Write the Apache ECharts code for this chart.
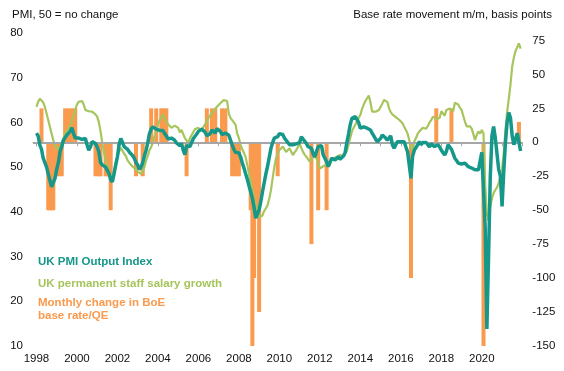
<!DOCTYPE html>
<html><head><meta charset="utf-8">
<script src="https://cdn.jsdelivr.net/npm/echarts@6/dist/echarts.min.js"></script>
<style>html,body{margin:0;padding:0;background:#fff}#c{width:564px;height:371px}</style>
</head><body><div id="c"></div>
<script>
// Monthly data, January 1998 to December 2021 (12 values per row = one year)
const startYear = 1998;
const pmiOutput = [
  57.6, 57.0, 55.0, 54.0, 52.0, 51.0, 50.0, 48.5, 47.0, 45.6, 46.0, 47.5, // 1998
  49.5, 51.0, 53.5, 54.6, 56.0, 56.6, 57.2, 57.5, 58.0, 58.8, 57.5, 56.5, // 1999
  56.8, 56.5, 56.8, 56.2, 56.0, 56.4, 55.0, 53.8, 54.5, 55.7, 56.0, 55.3, // 2000
  54.5, 53.4, 51.0, 50.5, 50.3, 50.0, 49.7, 48.6, 47.2, 46.7, 48.5, 50.5, // 2001
  52.3, 55.0, 56.4, 55.5, 54.6, 54.3, 54.0, 53.4, 53.1, 52.6, 52.0, 51.0, // 2002
  50.5, 49.5, 50.0, 51.0, 52.5, 53.8, 55.5, 57.5, 58.5, 59.0, 59.1, 58.5, // 2003
  58.5, 58.2, 58.0, 58.2, 57.5, 57.0, 56.3, 56.3, 56.5, 56.6, 56.0, 55.4, // 2004
  55.5, 54.8, 55.3, 53.8, 52.8, 54.8, 54.5, 54.6, 55.5, 56.4, 56.8, 57.4, // 2005
  58.0, 58.3, 58.5, 58.5, 57.8, 57.0, 56.6, 57.5, 58.3, 58.0, 57.6, 58.6, // 2006
  58.7, 58.0, 57.3, 57.5, 57.6, 57.3, 57.2, 57.6, 55.0, 54.0, 53.3, 53.0, // 2007
  53.2, 52.3, 51.0, 49.8, 48.5, 47.3, 45.8, 44.5, 43.0, 41.0, 38.6, 38.8, // 2008
  40.5, 42.3, 44.5, 46.5, 48.5, 50.2, 52.2, 54.2, 55.5, 56.5, 56.8, 56.8, // 2009
  57.5, 57.8, 57.3, 56.5, 56.0, 55.5, 55.0, 54.6, 55.0, 55.3, 55.2, 55.0, // 2010
  55.5, 56.8, 56.3, 55.8, 55.3, 54.6, 54.5, 54.2, 53.0, 52.3, 53.5, 54.6, // 2011
  54.8, 54.8, 52.7, 52.3, 51.2, 50.1, 51.0, 52.0, 51.8, 51.6, 52.0, 52.3, // 2012
  51.8, 51.6, 52.5, 53.3, 55.5, 57.4, 59.5, 60.9, 61.1, 61.3, 61.0, 60.0, // 2013
  58.7, 58.8, 59.0, 58.8, 58.7, 58.4, 58.3, 57.6, 57.2, 56.3, 55.7, 56.0, // 2014
  56.4, 57.2, 57.6, 56.5, 56.0, 56.2, 57.0, 55.0, 54.2, 55.0, 55.7, 55.7, // 2015
  55.7, 55.5, 55.7, 54.5, 53.4, 53.1, 47.5, 52.5, 53.8, 54.2, 55.0, 55.7, // 2016
  55.0, 55.5, 55.7, 55.5, 55.0, 54.5, 55.2, 54.8, 54.6, 55.0, 55.0, 54.5, // 2017
  53.8, 53.5, 52.7, 53.5, 55.0, 54.5, 54.0, 53.0, 52.0, 51.5, 50.9, 50.8, // 2018
  50.7, 50.8, 50.9, 50.5, 50.1, 50.0, 49.8, 49.6, 49.4, 49.4, 49.4, 49.8, // 2019
  53.3, 53.0, 36.5, 13.8, 30.0, 47.7, 57.0, 59.1, 56.5, 53.0, 49.5, 48.0, // 2020
  41.2, 49.0, 55.5, 60.0, 62.2, 61.0, 57.0, 55.0, 55.2, 57.6, 57.6, 53.6  // 2021
];
const salaryGrowth = [
  63.5, 64.6, 65.3, 65.4, 64.5, 63.5, 62.0, 60.5, 59.0, 57.5, 56.0, 55.0, // 1998
  54.0, 53.8, 54.5, 55.5, 56.5, 57.3, 58.0, 58.5, 59.5, 60.5, 61.5, 62.8, // 1999
  64.0, 64.6, 65.0, 64.8, 64.0, 62.8, 62.8, 62.5, 62.8, 62.4, 62.2, 61.8, // 2000
  61.3, 60.0, 58.0, 55.5, 53.5, 51.5, 50.5, 48.8, 47.5, 47.3, 49.0, 51.0, // 2001
  52.5, 53.5, 54.3, 54.0, 53.0, 52.5, 51.5, 51.0, 50.5, 50.3, 49.8, 49.4, // 2002
  49.0, 48.8, 48.5, 49.2, 50.0, 51.5, 52.5, 53.8, 54.5, 55.5, 57.0, 58.0, // 2003
  59.5, 60.5, 61.2, 61.7, 61.0, 60.3, 59.6, 59.2, 58.8, 59.0, 59.3, 59.4, // 2004
  58.8, 57.8, 58.3, 58.2, 56.5, 56.0, 55.4, 56.5, 57.2, 57.6, 58.5, 58.5, // 2005
  58.8, 58.2, 58.5, 59.0, 59.4, 60.2, 61.0, 61.6, 62.0, 62.5, 62.8, 63.5, // 2006
  63.9, 64.3, 64.6, 65.0, 65.2, 64.8, 62.0, 61.0, 60.5, 60.8, 59.5, 57.5, // 2007
  56.5, 55.0, 54.0, 53.2, 52.3, 50.5, 48.5, 46.8, 45.0, 43.0, 41.5, 40.0, // 2008
  38.8, 38.5, 39.2, 40.2, 40.8, 41.5, 43.0, 44.8, 47.5, 50.0, 52.0, 53.0, // 2009
  53.8, 54.0, 54.6, 54.0, 53.4, 53.8, 54.2, 53.5, 52.7, 53.3, 53.8, 54.5, // 2010
  55.3, 54.3, 53.4, 52.8, 52.3, 51.8, 51.2, 51.8, 52.5, 52.3, 52.0, 50.8, // 2011
  49.7, 50.0, 50.2, 50.3, 50.5, 50.8, 51.2, 51.6, 52.0, 52.2, 52.3, 52.5, // 2012
  52.7, 52.6, 52.5, 53.0, 53.6, 55.0, 56.5, 58.0, 58.8, 59.5, 60.3, 61.0, // 2013
  61.7, 63.0, 64.0, 64.8, 65.4, 66.0, 64.5, 62.4, 62.3, 62.4, 62.6, 62.8, // 2014
  63.5, 64.2, 65.0, 65.4, 64.6, 63.2, 62.3, 61.8, 61.5, 61.2, 60.9, 60.6, // 2015
  60.4, 59.8, 59.0, 58.3, 57.5, 56.0, 54.5, 53.8, 55.8, 56.5, 57.5, 58.0, // 2016
  58.3, 58.8, 59.0, 58.6, 59.2, 60.0, 60.5, 61.3, 61.0, 60.8, 60.9, 61.0, // 2017
  62.5, 62.0, 61.5, 62.8, 62.5, 63.1, 62.8, 62.5, 64.4, 64.2, 64.0, 63.3, // 2018
  62.8, 61.5, 60.2, 59.1, 59.1, 59.1, 58.6, 58.2, 56.1, 57.2, 58.0, 57.5, // 2019
  58.3, 57.5, 46.0, 39.5, 38.0, 41.0, 43.0, 44.2, 44.9, 45.4, 46.5, 47.8, // 2020
  49.6, 53.0, 58.3, 62.3, 65.3, 68.5, 72.5, 74.5, 76.0, 76.8, 77.7, 76.5  // 2021
];
// Monthly change in BoE base rate / QE, basis points
const rateMonths = [
  '1998-04','1998-08','1998-09','1998-10','1998-11','1998-12','1999-02','1999-04',
  '1999-06','1999-08','1999-10','1999-12',
  '2000-12','2001-02','2001-03','2001-06','2001-07','2001-08','2001-09',
  '2002-12','2003-04','2003-09','2003-12','2004-03','2004-04','2004-06',
  '2005-06','2006-06','2006-09','2006-11','2007-03','2007-05',
  '2007-09','2007-11','2008-01','2008-08','2008-09','2008-10','2008-11','2008-12','2009-01',
  '2009-12','2011-08','2011-12','2012-05','2016-07','2017-10','2018-07','2020-02','2021-11'
];
const rateChanges = [
  25, -50, -50, -50, -50, -25, -25, -25,
  25, 25, 25, 25,
  -25, -25, -25, -25, -25, -25, -50,
  -25, -25, 25, 25, 25, 25, 25,
  -25, 25, 25, 25, 25, 25,
  -25, -25, -25, -50, -150, -100, -50, -50, -125,
  -25, -75, -50, -50, -100, 25, 25, -150, 15
];
const yearTicks = [1998,1999,2000,2001,2002,2003,2004,2005,2006,2007,2008,2009,2010,2011,2012,2013,2014,2015,2016,2017,2018,2019,2020,2021,2022];
const yearLabels = [1998,2000,2002,2004,2006,2008,2010,2012,2014,2016,2018,2020];
const seriesNames = ['UK PMI Output Index', 'UK permanent staff salary growth', 'Monthly change in BoE\nbase rate/QE'];

const TEAL = '#15978a', GREEN = '#a6c55c', ORANGE = '#f99a4e', GREY = '#a6a6a6';
const FONT = "'Liberation Sans', Arial, sans-serif";

const pmiData = pmiOutput.map((v, i) => [startYear + i / 12, v]);
const salaryData = salaryGrowth.map((v, i) => [startYear + i / 12, v]);
const barData = rateMonths.map((m, i) => {
  const p = m.split('-').map(Number);
  return [p[0] + (p[1] - 1) / 12, rateChanges[i]];
});

const chart = echarts.init(document.getElementById('c'), null, {renderer: 'canvas'});
const legendBase = {
  icon: 'none', itemWidth: 0, itemHeight: 0, padding: 0, left: 33,
  selectedMode: false, orient: 'vertical',
  textStyle: {fontFamily: FONT, fontSize: 11.5, fontWeight: 'bold'}
};
chart.setOption({
  animation: false,
  backgroundColor: '#fff',
  textStyle: {fontFamily: FONT},
  title: [
    {text: 'PMI, 50 = no change', left: 12, top: 9, padding: 0,
     textStyle: {fontFamily: FONT, fontSize: 11.5, fontWeight: 'normal', color: '#111'}},
    {text: 'Base rate movement m/m, basis points', right: 12, top: 9, padding: 0,
     textStyle: {fontFamily: FONT, fontSize: 11.5, fontWeight: 'normal', color: '#111'}}
  ],
  legend: [
    Object.assign({}, legendBase, {top: 256, data: [{name: seriesNames[0], textStyle: {color: TEAL}}]}),
    Object.assign({}, legendBase, {top: 277.5, data: [{name: seriesNames[1], textStyle: {color: GREEN}}]}),
    Object.assign({}, legendBase, {top: 296, data: [{name: seriesNames[2], textStyle: {color: ORANGE, lineHeight: 13.5}}]})
  ],
  grid: {left: 33, right: 41.7, top: 33, bottom: 25, containLabel: false},
  xAxis: {
    type: 'value', min: 1997.83, max: 2022,
    axisLine: {show: true, lineStyle: {color: GREY, width: 1}},
    axisTick: {show: true, customValues: yearTicks, length: 4, lineStyle: {color: GREY}},
    axisLabel: {customValues: yearLabels, formatter: v => String(Math.round(v)),
                color: '#111', fontSize: 11.5, margin: 7, fontFamily: FONT},
    splitLine: {show: false}
  },
  yAxis: [
    {type: 'value', min: 10, max: 80, interval: 10, position: 'left',
     axisLine: {show: false}, axisTick: {show: false}, splitLine: {show: false},
     axisLabel: {color: '#111', fontSize: 11.5, margin: 10, fontFamily: FONT}},
    {type: 'value', min: -150, max: 80.5, interval: 25, position: 'right',
     axisLine: {show: false}, axisTick: {show: false}, splitLine: {show: false},
     axisLabel: {color: '#111', fontSize: 11.5, margin: 10, fontFamily: FONT, align: 'left',
                 formatter: v => (Math.abs(v % 25) < 1e-6 ? String(v) : '')}}
  ],
  series: [
    {name: seriesNames[2], type: 'bar', xAxisIndex: 0, yAxisIndex: 1, data: barData,
     barWidth: 4, itemStyle: {color: ORANGE}, z: 2,
     markLine: {silent: true, symbol: 'none', label: {show: false},
                lineStyle: {color: GREY, width: 2, type: 'solid'},
                data: [{yAxis: 0}]}},
    {name: seriesNames[1], type: 'line', yAxisIndex: 0, data: salaryData,
     symbol: 'none', showSymbol: false, lineStyle: {color: GREEN, width: 2.2},
     itemStyle: {color: GREEN}, z: 4},
    {name: seriesNames[0], type: 'line', yAxisIndex: 0, data: pmiData,
     symbol: 'none', showSymbol: false, lineStyle: {color: TEAL, width: 3.5},
     itemStyle: {color: TEAL}, z: 5}
  ]
});
</script></body></html>
